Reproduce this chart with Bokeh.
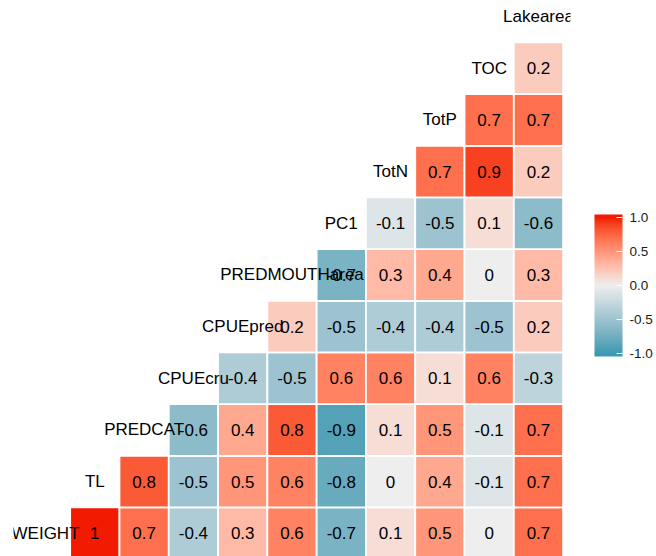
import numpy as np
from bokeh.plotting import figure
from bokeh.models import (ColumnDataSource, Range1d, ColorBar, LinearColorMapper,
                          FixedTicker, PrintfTickFormatter)
from bokeh.core.properties import value
from bokeh.embed import file_html
from bokeh.resources import INLINE

# ---- data -------------------------------------------------------------
variables = ["WEIGHT", "TL", "PREDCAT", "CPUEcru", "CPUEpred", "PREDMOUTHarea",
             "PC1", "TotN", "TotP", "TOC", "Lakearea"]

# correlations of each variable with the variables that follow it
r_weight = [1, 0.7, -0.4, 0.3, 0.6, -0.7, 0.1, 0.5, 0, 0.7]
r_tl = [0.8, -0.5, 0.5, 0.6, -0.8, 0, 0.4, -0.1, 0.7]
r_predcat = [-0.6, 0.4, 0.8, -0.9, 0.1, 0.5, -0.1, 0.7]
r_cpuecru = [-0.4, -0.5, 0.6, 0.6, 0.1, 0.6, -0.3]
r_cpuepred = [0.2, -0.5, -0.4, -0.4, -0.5, 0.2]
r_predmouth = [-0.7, 0.3, 0.4, 0, 0.3]
r_pc1 = [-0.1, -0.5, 0.1, -0.6]
r_totn = [0.7, 0.9, 0.2]
r_totp = [0.7, 0.7]
r_toc = [0.2]
rows = [r_weight, r_tl, r_predcat, r_cpuecru, r_cpuepred, r_predmouth,
        r_pc1, r_totn, r_totp, r_toc]

legend_ticks = [-1, -0.5, 0, 0.5, 1]

# ---- colour scale (Lab interpolation low-mid-high) ---------------------
LOW, MID, HIGH = "#3B9AB2", "#EEEEEE", "#F21A00"


def hex2rgb(h):
    h = h.lstrip("#")
    return np.array([int(h[i:i + 2], 16) for i in (0, 2, 4)]) / 255.0


WHITE = np.array([0.95047, 1.0, 1.08883])
M = np.array([[0.4124564, 0.3575761, 0.1804375],
              [0.2126729, 0.7151522, 0.0721750],
              [0.0193339, 0.1191920, 0.9503041]])
MINV = np.linalg.inv(M)


def rgb2lab(rgb):
    c = np.where(rgb > 0.04045, ((rgb + 0.055) / 1.055) ** 2.4, rgb / 12.92)
    xyz = M @ c / WHITE
    f = np.where(xyz > 216 / 24389, np.cbrt(xyz), (24389 / 27 * xyz + 16) / 116)
    return np.array([116 * f[1] - 16, 500 * (f[0] - f[1]), 200 * (f[1] - f[2])])


def lab2hex(lab):
    L, a, b = lab
    fy = (L + 16) / 116
    fx = fy + a / 500
    fz = fy - b / 200
    f = np.array([fx, fy, fz])
    xyz = np.where(f ** 3 > 216 / 24389, f ** 3, (116 * f - 16) / (24389 / 27)) * WHITE
    c = MINV @ xyz
    c = np.clip(c, 0, 1)
    rgb = np.where(c > 0.0031308, 1.055 * c ** (1 / 2.4) - 0.055, 12.92 * c)
    rgb = np.clip(np.round(rgb * 255), 0, 255).astype(int)
    return "#%02x%02x%02x" % tuple(rgb)


LAB_LOW, LAB_MID, LAB_HIGH = rgb2lab(hex2rgb(LOW)), rgb2lab(hex2rgb(MID)), rgb2lab(hex2rgb(HIGH))


def corr_color(v):
    v = float(np.clip(v, -1, 1))
    if v < 0:
        t = v + 1
        lab = LAB_LOW + (LAB_MID - LAB_LOW) * t
    else:
        lab = LAB_MID + (LAB_HIGH - LAB_MID) * v
    return lab2hex(lab)


# ---- build tables ------------------------------------------------------
cx, cy, cval, ccol, clab = [], [], [], [], []
for r, vals in enumerate(rows):
    for k, v in enumerate(vals):
        cx.append(r + 1 + k)
        cy.append(r)
        cval.append(v)
        ccol.append(corr_color(v))
        clab.append("%g" % v)
cells = ColumnDataSource(dict(x=cx, y=cy, val=cval, color=ccol, label=clab))
names = ColumnDataSource(dict(x=list(range(len(variables))),
                              y=list(range(len(variables))),
                              label=variables))

# ---- figure ------------------------------------------------------------
p = figure(width=656, height=556, output_backend="svg", toolbar_location=None,
           x_range=Range1d(-0.65, 10.65), y_range=Range1d(-0.449, 10.312),
           x_axis_type=None, y_axis_type=None,
           min_border_left=13, min_border_right=86, min_border_top=0, min_border_bottom=0)
p.outline_line_color = None
p.grid.visible = False
p.background_fill_color = "white"

p.rect(x="x", y="y", width=1, height=1, source=cells, fill_color="color",
       line_color="white", line_width=1.8)
p.text(x="x", y="y", text="label", source=cells, text_align="center",
       text_baseline="middle", text_font=value("Liberation Sans"),
       text_font_size="17px", text_color="black")
p.text(x="x", y="y", text="label", source=names, text_align="center",
       text_baseline="middle", text_font=value("Liberation Sans"),
       text_font_size="17px", text_color="black")

pal_vals = np.clip(np.linspace(-1.044, 1.044, 256), -1, 1)
palette = [corr_color(v) for v in pal_vals]
mapper = LinearColorMapper(palette=palette, low=-1.044, high=1.044)
cb = ColorBar(color_mapper=mapper, ticker=FixedTicker(ticks=legend_ticks),
              formatter=PrintfTickFormatter(format="%.1f"),
              width=28, height=142, location=(581, 200), padding=0,
              label_standoff=7, major_label_text_font="Liberation Sans",
              major_label_text_font_size="13.5px", major_label_text_color="#1a1a1a",
              major_tick_line_color="white", major_tick_in=6, major_tick_out=0,
              minor_tick_line_color=None, bar_line_color=None,
              border_line_color=None, background_fill_color=None)
p.add_layout(cb)

open("out.html", "w").write(file_html(p, INLINE))
